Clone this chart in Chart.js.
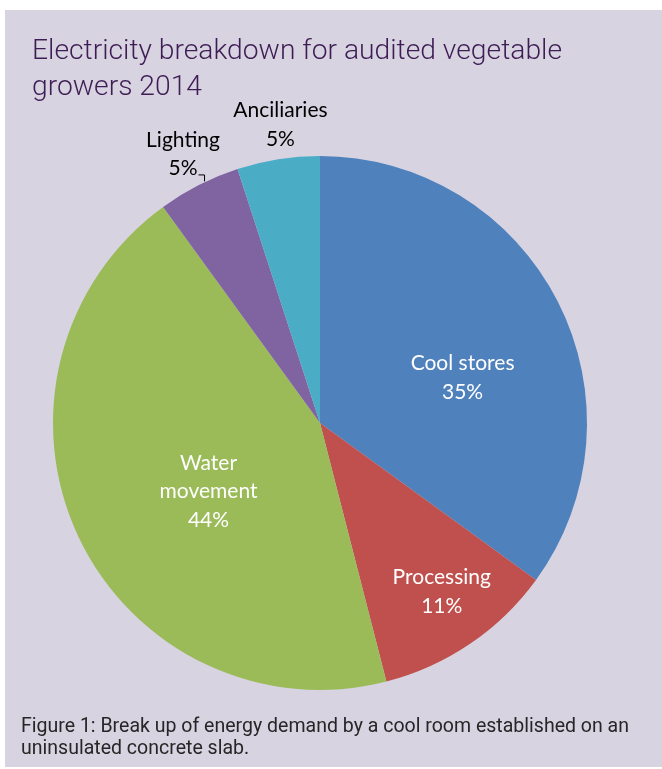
<!DOCTYPE html>
<html>
<head>
<meta charset="utf-8">
<script src="https://cdn.jsdelivr.net/npm/chart.js@4.4.1/dist/chart.umd.min.js"></script>
<style>
  html, body { margin: 0; padding: 0; background: #ffffff; }
  #panel {
    position: absolute; left: 5px; top: 10px; width: 657px; height: 757px;
    background: #d8d3e1;
  }
  #title {
    position: absolute; left: 27px; top: 22px; white-space: nowrap;
    font-family: Roboto, 'Liberation Sans', sans-serif; font-weight: 300;
    font-size: 28px; line-height: 36px; color: #3e1d55;
    transform-origin: 0 0;
  }
  #caption {
    position: absolute; left: 16px; top: 704px; white-space: nowrap;
    font-family: Roboto, 'Liberation Sans', sans-serif;
    font-size: 20px; line-height: 22px; color: #262626;
    transform-origin: 0 0;
  }
  #chartBox { position: absolute; left: 0; top: 0; width: 657px; height: 757px; }
</style>
</head>
<body>
<div id="panel">
  <div id="chartBox"><canvas id="pieChart"></canvas></div>
  <div id="title"><span id="t1">Electricity breakdown for audited vegetable</span><br>growers 2014</div>
  <div id="caption"><span id="c1">Figure 1: Break up of energy demand by a cool room established on an</span><br>uninsulated concrete slab.</div>
</div>
<script>
// data
var categories = ["Cool stores", "Processing", "Water movement", "Lighting", "Anciliaries"];
var labelLines = [["Cool stores"], ["Processing"], ["Water", "movement"], ["Lighting"], ["Anciliaries"]];
var values = [35, 11, 44, 5, 5];
var colours = ["#4f81bd", "#c0504d", "#9bbb59", "#8064a2", "#4bacc6"];

// label placement: [fraction along slice angle, fraction of radius]
var labelPlace = [[0.575, 0.56], [0.46, 0.78], [0.46, 0.49], [0.5, 1.13], [0.58, 1.126]];

// squeeze the text blocks to the widths of the condensed face in the original
function fitWidth(blockId, lineId, target) {
  var w = document.getElementById(lineId).getBoundingClientRect().width;
  document.getElementById(blockId).style.transform = 'scaleX(' + (target / w) + ')';
}
fitWidth('title', 't1', 530);
fitWidth('caption', 'c1', 608);

var sliceLabels = {
  id: 'sliceLabels',
  afterDatasetsDraw: function (chart) {
    var ctx = chart.ctx;
    var meta = chart.getDatasetMeta(0);
    var total = values.reduce(function (a, b) { return a + b; }, 0);
    ctx.save();
    ctx.font = '21px Lato, "Open Sans", sans-serif';
    ctx.textAlign = 'center';
    ctx.textBaseline = 'middle';
    meta.data.forEach(function (arc, i) {
      var p = arc.getProps(['x', 'y', 'startAngle', 'endAngle', 'outerRadius'], true);
      var ang = p.startAngle + (p.endAngle - p.startAngle) * labelPlace[i][0];
      var r = p.outerRadius * labelPlace[i][1];
      var cx = p.x + Math.cos(ang) * r;
      var cy = p.y + Math.sin(ang) * r;
      var outside = labelPlace[i][1] > 1;
      ctx.fillStyle = outside ? '#000000' : '#ffffff';
      var lines = labelLines[i].concat([Math.round(values[i] / total * 100) + '%']);
      var lh = 28.5;
      var y0 = cy - (lines.length - 1) * lh / 2;
      lines.forEach(function (t, k) { ctx.fillText(t, cx, y0 + k * lh); });
      if (i === 3) {
        // leader line for Lighting
        var pctW = ctx.measureText(lines[lines.length - 1]).width;
        var lx = cx + pctW / 2 + 1;
        var ly = y0 + (lines.length - 1) * lh + 6;
        ctx.strokeStyle = '#000000';
        ctx.lineWidth = 1;
        ctx.beginPath();
        ctx.moveTo(lx, ly + 0.5);
        ctx.lineTo(lx + 6, ly + 0.5);
        ctx.lineTo(lx + 6, ly + 7);
        ctx.stroke();
      }
    });
    ctx.restore();
  }
};

new Chart(document.getElementById('pieChart'), {
  type: 'pie',
  data: {
    labels: categories,
    datasets: [{
      data: values,
      backgroundColor: colours,
      borderWidth: 0
    }]
  },
  options: {
    responsive: true,
    maintainAspectRatio: false,
    animation: false,
    rotation: 0,
    layout: { padding: { left: 48, right: 75, top: 146, bottom: 77 } },
    plugins: {
      legend: { display: false },
      tooltip: { enabled: false }
    }
  },
  plugins: [sliceLabels]
});
</script>
</body>
</html>
